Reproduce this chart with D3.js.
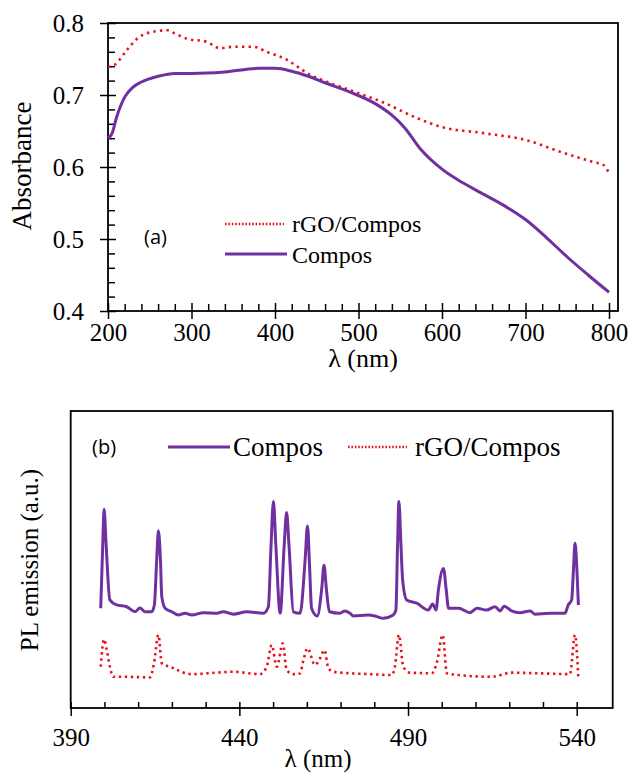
<!DOCTYPE html>
<html>
  <head>
    <meta charset="utf-8">
    <script src="https://d3js.org/d3.v7.min.js"></script>
    <style>
      body { margin: 0; background: #fff; }
      svg text { font-family: "Liberation Serif", "Times New Roman", serif; fill: #000; }
      .panel-tag { font-family: "Open Sans", "Liberation Sans", sans-serif; }
    </style>
  </head>
  <body>
    <svg id="chart" width="632" height="775"></svg>
    <script>
      // (a) absorbance, [wavelength nm, absorbance]
      const absCompos = [[200,0.64],[205,0.647],[210,0.668],[220,0.697],[230,0.711],[240,0.718],[260,0.726],[280,0.73],[300,0.73],[340,0.732],[380,0.737],[400,0.737],[420,0.733],[440,0.726],[460,0.717],[490,0.704],[520,0.688],[540,0.672],[555,0.655],[575,0.624],[600,0.597],[625,0.578],[650,0.562],[675,0.546],[700,0.527],[725,0.502],[750,0.475],[775,0.45],[800,0.426]];
      const absRgo = [[200,0.739],[208,0.742],[223,0.763],[238,0.781],[260,0.789],[271,0.79],[279,0.786],[295,0.778],[318,0.774],[334,0.765],[350,0.767],[374,0.767],[390,0.76],[414,0.749],[430,0.737],[442,0.728],[454,0.722],[489,0.707],[529,0.69],[570,0.668],[598,0.656],[650,0.647],[702,0.637],[742,0.621],[781,0.607],[793,0.603],[800,0.592]];
      const absXTicks = [200, 300, 400, 500, 600, 700, 800];
      const absYTicks = [0.4, 0.5, 0.6, 0.7, 0.8];

      // (b) PL emission, [wavelength nm, intensity a.u.]
      const plCompos = [[398.9,33.6],[399.5,55],[399.9,66.9],[400.5,55],[401.6,36.4],[403.6,34.7],[406.6,34.1],[409.1,32.4],[410.5,33.7],[412,32.4],[414,32.4],[414.8,34.7],[415.5,50],[416,59.7],[416.6,50],[417,37.5],[418,33.6],[420,32.4],[421.9,31.3],[423.9,31.9],[425.9,31.3],[429.3,32.1],[433.3,31.9],[435.2,32.4],[438.2,31.6],[442.2,32.4],[447.1,31.9],[448.6,34.1],[449.4,55],[450.1,69.5],[450.8,55],[452.1,31.9],[453.3,55],[454,65.8],[454.7,55],[456,32.4],[458,31.9],[459.5,50],[460.2,61.3],[460.8,48],[461.4,33.6],[463.1,31],[464.4,40],[465.1,48.1],[465.8,40],[466.7,32.4],[469.8,31.9],[471.3,32.7],[472.8,31.9],[473.8,31],[478.2,31.3],[480.2,31],[482.7,30.2],[485.6,31.3],[486.4,33],[486.9,55],[487.3,69.5],[487.9,55],[488.4,43.1],[489.6,36.4],[492.6,35.3],[496,33],[497.3,35],[498.3,33],[499,39.7],[500.5,47],[501.3,40],[502,33.6],[505,33.6],[508.4,32.1],[510.4,33.6],[513.3,33],[515.8,34.1],[517.3,32.7],[518.5,34.3],[520.7,32.7],[523.2,32.1],[526.2,32.7],[527.6,31.6],[532.1,31.9],[536.5,31.9],[537.5,34.7],[538.5,36.4],[539.1,48],[539.5,55.5],[540,48],[540.5,34.7]];
      const plRgo = [[398.9,13.9],[399.9,23.1],[400.6,20],[401.6,13.9],[402.6,10.5],[406.6,10.5],[413.5,10.3],[414.7,15.1],[416,24.6],[417,15.1],[419.4,13.9],[425.9,11.4],[433.3,11.9],[438.2,12.2],[446.1,11.4],[448.1,13.9],[449.6,21.2],[451.1,13.9],[452.9,21.8],[454,12.8],[456,11.4],[458,11.7],[459,16.2],[460.2,20.1],[462.4,14.5],[463.9,16.7],[465.2,19.5],[466.4,13.4],[467.9,12.2],[472.8,11.7],[478.7,11.4],[485.2,11.1],[486.1,13.9],[487.3,24.6],[488.6,13.9],[490.6,11.9],[497,11.7],[498.5,15.1],[500.3,24.6],[501.5,11.7],[505,11.1],[514.7,10.5],[520.7,11.9],[528.1,11.7],[538,11.4],[539.5,24.6],[540.5,9.7]];
      const plXTicks = [390, 440, 490, 540];

      const purple = '#7030a0';
      const red = '#e8101a';
      const serif = '"Liberation Serif", "Times New Roman", serif';

      const svg = d3.select('#chart');

      // ---------- panel (a) ----------
      const xA = d3.scaleLinear().domain([200, 800]).range([108, 609]);
      const yA = d3.scaleLinear().domain([0.4, 0.8]).range([311, 23]);

      const gA = svg.append('g');

      const minorXA = d3.range(200, 801, 20).filter(v => v % 100 !== 0);
      const minorYA = d3.range(0.4, 0.8001, 0.02).filter(v => Math.abs(v * 10 - Math.round(v * 10)) > 1e-6);

      // inward minor ticks
      gA.append('g').attr('transform', 'translate(0,311)')
        .call(d3.axisBottom(xA).tickValues(minorXA).tickSize(-7).tickFormat(''));
      gA.append('g').attr('transform', 'translate(108,0)')
        .call(d3.axisLeft(yA).tickValues(minorYA).tickSize(-7).tickFormat(''));
      // major ticks crossing the axis
      gA.append('g').attr('transform', 'translate(0,311)')
        .call(d3.axisBottom(xA).tickValues(absXTicks).tickSize(-8).tickFormat(''));
      gA.append('g').attr('transform', 'translate(108,0)')
        .call(d3.axisLeft(yA).tickValues(absYTicks).tickSize(-8).tickFormat(''));
      gA.append('g').attr('class', 'lab').attr('transform', 'translate(0,311)')
        .call(d3.axisBottom(xA).tickValues(absXTicks).tickSize(8).tickPadding(4).tickFormat(d3.format('d')));
      gA.append('g').attr('class', 'lab').attr('transform', 'translate(108,0)')
        .call(d3.axisLeft(yA).tickValues(absYTicks).tickSize(8).tickPadding(16).tickFormat(d3.format('.1f')));

      gA.append('rect')
        .attr('x', 108).attr('y', 23).attr('width', 510).attr('height', 288)
        .attr('fill', 'none').attr('stroke', '#000').attr('stroke-width', 1.8);

      gA.append('path').datum(absRgo)
        .attr('fill', 'none').attr('stroke', red).attr('stroke-width', 2.6)
        .attr('stroke-dasharray', '2.4 4.2')
        .attr('d', d3.line().x(d => xA(d[0])).y(d => yA(d[1])).curve(d3.curveMonotoneX));

      gA.append('path').datum(absCompos)
        .attr('fill', 'none').attr('stroke', purple).attr('stroke-width', 3)
        .attr('d', d3.line().x(d => xA(d[0])).y(d => yA(d[1])).curve(d3.curveMonotoneX));

      // legend (a)
      gA.append('line').attr('x1', 225).attr('x2', 284).attr('y1', 224).attr('y2', 224)
        .attr('stroke', red).attr('stroke-width', 2.4).attr('stroke-dasharray', '1.6 1.8');
      gA.append('text').attr('x', 292).attr('y', 232).style('font-size', '24px').text('rGO/Compos');
      gA.append('line').attr('x1', 225).attr('x2', 287).attr('y1', 254).attr('y2', 254)
        .attr('stroke', purple).attr('stroke-width', 3);
      gA.append('text').attr('x', 292).attr('y', 263).style('font-size', '24px').text('Compos');
      gA.append('text').attr('class', 'panel-tag').attr('x', 144).attr('y', 244)
        .style('font-size', '20px').text('(a)');

      gA.append('text').attr('x', 363).attr('y', 367).attr('text-anchor', 'middle')
        .style('font-size', '26px').text('λ (nm)');
      gA.append('text').attr('transform', 'translate(31,166) rotate(-90)').attr('text-anchor', 'middle')
        .style('font-size', '27px').text('Absorbance');

      // ---------- panel (b) ----------
      const xB = d3.scaleLinear().domain([390, 540]).range([70.7, 576.7]);
      const yB = d3.scaleLinear().domain([0, 100]).range([708, 411]);

      const gB = svg.append('g');
      const minorXB = d3.range(390, 551, 10).filter(v => (v - 390) % 50 !== 0 && v < 550);

      gB.append('g').attr('transform', 'translate(0,708)')
        .call(d3.axisBottom(xB).tickValues(minorXB).tickSize(-6).tickFormat(''));
      gB.append('g').attr('transform', 'translate(0,708)')
        .call(d3.axisBottom(xB).tickValues(plXTicks).tickSize(-6).tickFormat(''));
      gB.append('g').attr('class', 'lab').attr('transform', 'translate(0,708)')
        .call(d3.axisBottom(xB).tickValues(plXTicks).tickSize(8).tickPadding(12).tickFormat(d3.format('d')));

      gB.append('rect')
        .attr('x', 70.7).attr('y', 411).attr('width', 542).attr('height', 297)
        .attr('fill', 'none').attr('stroke', '#000').attr('stroke-width', 1.8);

      gB.append('path').datum(plRgo)
        .attr('fill', 'none').attr('stroke', red).attr('stroke-width', 2.6)
        .attr('stroke-dasharray', '2.4 3.6')
        .attr('d', d3.line().x(d => xB(d[0])).y(d => yB(d[1])).curve(d3.curveMonotoneX));

      gB.append('path').datum(plCompos)
        .attr('fill', 'none').attr('stroke', purple).attr('stroke-width', 3)
        .attr('d', d3.line().x(d => xB(d[0])).y(d => yB(d[1])).curve(d3.curveMonotoneX));

      // legend (b)
      gB.append('text').attr('class', 'panel-tag').attr('x', 92).attr('y', 454)
        .style('font-size', '20px').text('(b)');
      gB.append('line').attr('x1', 168).attr('x2', 230).attr('y1', 447).attr('y2', 447)
        .attr('stroke', purple).attr('stroke-width', 3);
      gB.append('text').attr('x', 233).attr('y', 456).style('font-size', '27px').text('Compos');
      gB.append('line').attr('x1', 348).attr('x2', 407).attr('y1', 447).attr('y2', 447)
        .attr('stroke', red).attr('stroke-width', 2.4).attr('stroke-dasharray', '1.6 1.8');
      gB.append('text').attr('x', 415).attr('y', 456).style('font-size', '27px').text('rGO/Compos');

      gB.append('text').attr('x', 318).attr('y', 767).attr('text-anchor', 'middle')
        .style('font-size', '25px').text('λ (nm)');
      gB.append('text').attr('transform', 'translate(38,560) rotate(-90)').attr('text-anchor', 'middle')
        .style('font-size', '25px').text('PL emission (a.u.)');

      // axis styling
      svg.selectAll('.domain').remove();
      svg.selectAll('.tick line').attr('stroke', '#000').attr('stroke-width', 1.5);
      svg.selectAll('.lab').attr('font-family', serif).attr('font-size', 25);
      svg.selectAll('.lab text')
        .style('font-family', serif).style('font-size', '25px').attr('fill', '#000');
    </script>
  </body>
</html>
